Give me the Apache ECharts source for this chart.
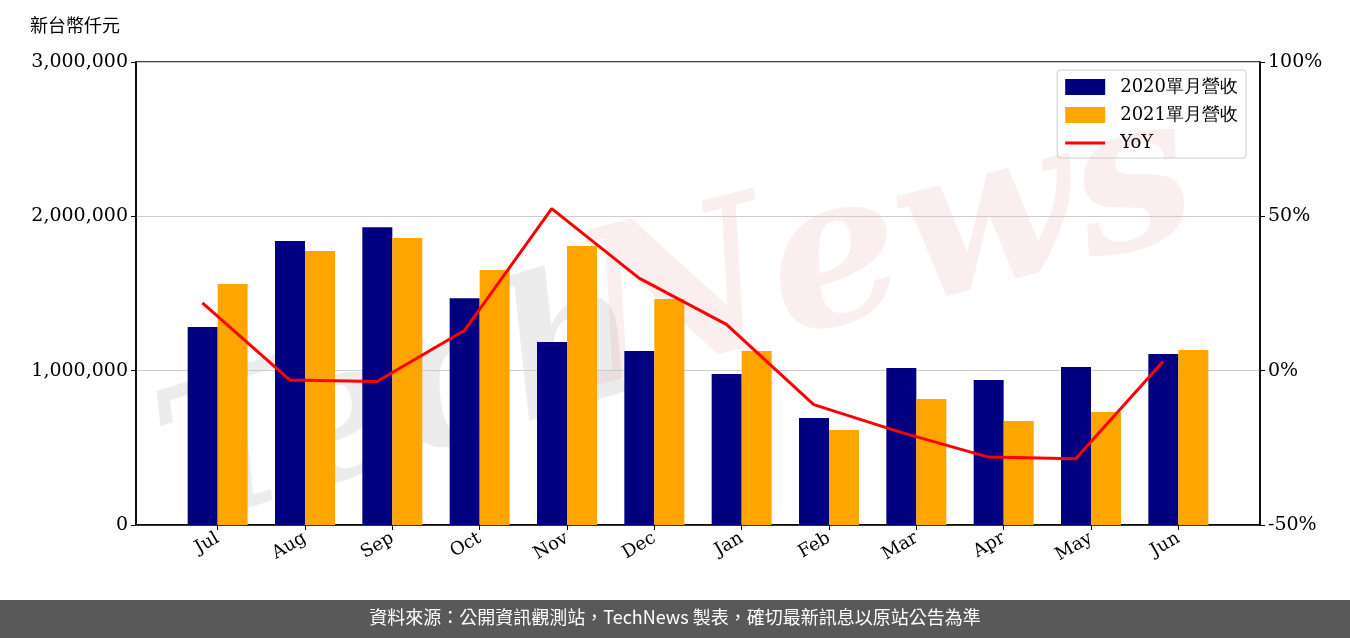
<!DOCTYPE html>
<html><head><meta charset="utf-8">
<script src="https://cdn.jsdelivr.net/npm/echarts@6/dist/echarts.min.js"></script>
<style>body{margin:0}#main{width:1350px;height:638px}</style>
</head><body><div id="main"></div>
<script>
var months = ['Jul','Aug','Sep','Oct','Nov','Dec','Jan','Feb','Mar','Apr','May','Jun'];
var rev2020 = [1283000,1840000,1930000,1470000,1186000,1128000,979000,693000,1017000,940000,1024000,1108000];
var rev2021 = [1562000,1776000,1860000,1653000,1808000,1465000,1128000,616000,817000,674000,732000,1134000];
var yoy = [22,-3,-3.5,13,52.5,30,15,-11,-20,-28,-28.5,3];

var idx = months.map(function(m, i){ return i; });
var myChart = echarts.init(document.getElementById('main'));
var serif = 'DejaVu Serif';
var option = {
  animation: false,
  graphic: [
    {type:'text', left:30, top:16, style:{text:'新台幣仟元', font:'18px "Noto Sans CJK TC"', fill:'#000'}},
    {type:'text', x:140, y:390, rotation:0.3, z:0, style:{text:'Tech', font:'italic bold 190px "DejaVu Serif"', fill:'rgba(160,160,160,0.2)'}},
    {type:'text', x:560, y:230, rotation:0.25, z:0, style:{text:'News', font:'italic bold 210px "DejaVu Serif"', fill:'rgba(230,140,140,0.15)'}},
    {type:'rect', left:0, top:600, shape:{width:1350, height:38}, style:{fill:'#595959'}},
    {type:'text', left:'center', top:608, style:{text:'資料來源：公開資訊觀測站，TechNews 製表，確切最新訊息以原站公告為準', font:'18px "Noto Sans CJK TC"', fill:'#fff'}}
  ],
  legend: {
    orient:'vertical', right:104, top:70, itemWidth:40, itemHeight:16, itemGap:10,
    borderColor:'#ccc', borderWidth:1, borderRadius:3, padding:[8,8,6,8],
    textStyle:{fontFamily:serif, fontSize:18, color:'#000', padding:[0,0,0,10]},
    data:[{name:'2020單月營收', icon:'rect'},{name:'2021單月營收', icon:'rect'},
          {name:'YoY', icon:'path://M0,0 L40,0 L40,3 L0,3 Z'}]
  },
  grid: {left:136, right:90, top:62, bottom:113, show:true, borderColor:'#000', borderWidth:1.5, backgroundColor:'transparent'},
  xAxis: {
    type:'value', min:-0.935, max:11.935,
    axisLine:{onZero:false, lineStyle:{color:'#000', width:1.5}},
    axisTick:{show:true, customValues:idx, lineStyle:{color:'#000'}},
    axisLabel:{customValues:idx, rotate:30, color:'#000', fontFamily:serif, fontSize:18, margin:12,
               formatter:function(v){ return months[Math.round(v)]; }},
    splitLine:{show:false}
  },
  yAxis: [
    {type:'value', min:0, max:3000000, interval:1000000,
     axisLine:{show:true, onZero:false, lineStyle:{color:'#000', width:1.5}}, axisTick:{show:true},
     axisLabel:{color:'#000', fontFamily:serif, fontSize:19, formatter:function(v){return v.toLocaleString('en-US');}},
     splitLine:{lineStyle:{color:'#ccc', width:1.2}}},
    {type:'value', min:-50, max:100, interval:50,
     axisLine:{show:true, onZero:false, lineStyle:{color:'#000', width:1.5}}, axisTick:{show:true},
     axisLabel:{color:'#000', fontFamily:serif, fontSize:19, formatter:'{value}%'},
     splitLine:{show:false}}
  ],
  series: [
    {name:'2020單月營收', type:'bar', data:idx.map(function(i){return [i, rev2020[i]];}), barWidth:30, barGap:'0%', itemStyle:{color:'#000080'}},
    {name:'2021單月營收', type:'bar', data:idx.map(function(i){return [i, rev2021[i]];}), barWidth:30, itemStyle:{color:'#FFA500'}},
    {name:'YoY', type:'line', yAxisIndex:1, data:idx.map(function(i){return [i - 0.175, yoy[i]];}), symbol:'none', lineStyle:{color:'#FF0000', width:3}, itemStyle:{color:'#FF0000'}, z:5}
  ]
};
myChart.setOption(option);
</script></body></html>
